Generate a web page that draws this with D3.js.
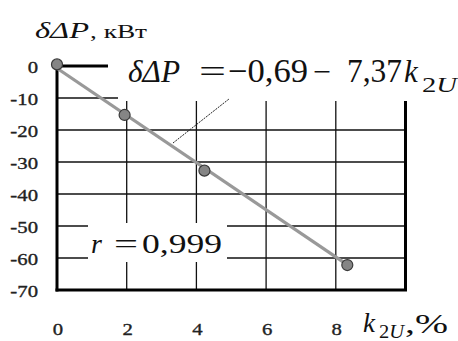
<!DOCTYPE html>
<html>
<head>
<meta charset="utf-8">
<script src="https://cdn.jsdelivr.net/npm/d3@7"></script>
<style>
  html, body { margin: 0; padding: 0; background: #fff; }
  svg { display: block; }
  .tick-y, .tick-x { font-family: "Liberation Serif", "Times New Roman", serif; font-size: 17px; fill: #222; stroke: #222; stroke-width: 0.35px; }
  .math { font-family: "Liberation Serif", "Times New Roman", serif; fill: #111; }
</style>
</head>
<body>
<svg id="chart" width="458" height="341"></svg>
<script>
// Measured points: k2U (%) vs δΔP (kW)
const kValues = [0, 1.94, 4.23, 8.33];
const dPValues = [0.5, -15.3, -32.7, -62.2];
// Linear fit coefficients
const fitIntercept = -0.69;
const fitSlope = -7.37;
const xTicks = [0, 2, 4, 6, 8];
const yTicks = [0, -10, -20, -30, -40, -50, -60, -70];

const svg = d3.select("#chart");
const x = d3.scaleLinear().domain([0, 10]).range([57, 405.5]);
const y = d3.scaleLinear().domain([0, -70]).range([66, 290]);

// grid
const grid = svg.append("g").attr("stroke", "#111").attr("stroke-width", 1.3);
grid.selectAll("line.h").data(yTicks.filter(v => v < 0 && v > -70)).join("line")
  .attr("x1", x(0)).attr("x2", x(10)).attr("y1", d => y(d)).attr("y2", d => y(d));
grid.selectAll("line.v").data(xTicks.filter(v => v > 0)).join("line")
  .attr("x1", d => x(d)).attr("x2", d => x(d)).attr("y1", y(0)).attr("y2", y(-70));

// frame
const frame = svg.append("g").attr("stroke", "#000").attr("stroke-width", 3).attr("fill", "none");
frame.append("line").attr("x1", x(0)).attr("x2", x(0)).attr("y1", y(0)).attr("y2", y(-70) + 1.5);
frame.append("line").attr("x1", x(0) - 1.5).attr("x2", x(10) + 1.5).attr("y1", y(-70)).attr("y2", y(-70));
frame.append("line").attr("x1", x(10)).attr("x2", x(10)).attr("y1", y(0)).attr("y2", y(-70));
frame.append("line").attr("x1", x(0)).attr("x2", x(10)).attr("y1", y(0)).attr("y2", y(0));

// text boxes (white fill) laid over the grid
svg.append("rect").attr("x", 108).attr("y", 40).attr("width", 350).attr("height", 44).attr("fill", "#fff");
svg.append("rect").attr("x", 118).attr("y", 84).attr("width", 340).attr("height", 17).attr("fill", "#fff");
svg.append("rect").attr("x", 88).attr("y", 223).attr("width", 139).attr("height", 39).attr("fill", "#fff");

// leader line from equation to trend line
svg.append("line").attr("x1", 173).attr("y1", 143).attr("x2", 229).attr("y2", 99)
  .attr("stroke", "#222").attr("stroke-width", 1).attr("stroke-dasharray", "2,1");

// trend line
const kLast = kValues[kValues.length - 1];
svg.append("line")
  .attr("x1", x(0)).attr("y1", y(fitIntercept))
  .attr("x2", x(kLast - 0.1)).attr("y2", y(fitIntercept + fitSlope * (kLast - 0.1)))
  .attr("stroke", "#999").attr("stroke-width", 3.2);

// points
svg.selectAll("circle.pt").data(kValues.map((k, i) => [k, dPValues[i]])).join("circle")
  .attr("cx", d => x(d[0])).attr("cy", d => y(d[1])).attr("r", 5.5)
  .attr("fill", "#858585").attr("stroke", "#3a3a3a").attr("stroke-width", 1.2);

// y tick labels (slightly widened glyphs)
svg.selectAll("text.tick-y").data(yTicks).join("text").attr("class", "tick-y")
  .attr("transform", d => `translate(38,${y(d) + 7}) scale(1.22,1)`)
  .attr("text-anchor", "end")
  .text(d => d);

// x tick labels
svg.selectAll("text.tick-x").data(xTicks).join("text").attr("class", "tick-x")
  .attr("transform", d => `translate(${x(d) + 1},335) scale(1.22,1)`)
  .attr("text-anchor", "middle")
  .text(d => d);

// title: δΔP, кВт
const titleG = svg.append("g").attr("class", "math");
titleG.append("text").attr("x", 35).attr("y", 38).attr("font-style", "italic").attr("font-size", 23)
  .attr("textLength", 54).attr("lengthAdjust", "spacingAndGlyphs").text("δΔP");
titleG.append("text").attr("x", 90).attr("y", 38).attr("font-size", 19)
  .attr("textLength", 57).attr("lengthAdjust", "spacingAndGlyphs").text(", кВт");

// equation
const eq = svg.append("g").attr("class", "math");
eq.append("text").attr("x", 128).attr("y", 82).attr("font-size", 31).attr("font-style", "italic")
  .attr("textLength", 52).attr("lengthAdjust", "spacingAndGlyphs").text("δΔP");
eq.append("text").attr("x", 199).attr("y", 82).attr("font-size", 31)
  .attr("textLength", 27).attr("lengthAdjust", "spacingAndGlyphs").text("=");
eq.append("text").attr("x", 228).attr("y", 82).attr("font-size", 33)
  .attr("textLength", 80).attr("lengthAdjust", "spacingAndGlyphs").text("−0,69");
eq.append("text").attr("x", 313).attr("y", 82).attr("font-size", 31)
  .attr("textLength", 18).attr("lengthAdjust", "spacingAndGlyphs").text("−");
eq.append("text").attr("x", 347).attr("y", 82).attr("font-size", 33)
  .attr("textLength", 55).attr("lengthAdjust", "spacingAndGlyphs").text("7,37");
eq.append("text").attr("x", 404).attr("y", 82).attr("font-size", 31).attr("font-style", "italic").text("k");
const sub1 = eq.append("text").attr("x", 422).attr("y", 92).attr("font-size", 22)
  .attr("textLength", 35).attr("lengthAdjust", "spacingAndGlyphs");
sub1.append("tspan").text("2");
sub1.append("tspan").attr("font-style", "italic").text("U");

// correlation coefficient
const rt = svg.append("g").attr("class", "math");
rt.append("text").attr("x", 91).attr("y", 253).attr("font-size", 28).attr("font-style", "italic").text("r");
rt.append("text").attr("x", 114).attr("y", 253).attr("font-size", 28)
  .attr("textLength", 24).attr("lengthAdjust", "spacingAndGlyphs").text("=");
rt.append("text").attr("x", 142).attr("y", 253).attr("font-size", 28)
  .attr("textLength", 80).attr("lengthAdjust", "spacingAndGlyphs").text("0,999");

// x axis label: k2U,%
const xl = svg.append("g").attr("class", "math");
xl.append("text").attr("x", 363).attr("y", 332).attr("font-size", 27).attr("font-style", "italic").text("k");
const sub2 = xl.append("text").attr("x", 379).attr("y", 338).attr("font-size", 18)
  .attr("textLength", 25).attr("lengthAdjust", "spacingAndGlyphs");
sub2.append("tspan").text("2");
sub2.append("tspan").attr("font-style", "italic").text("U");
xl.append("text").attr("x", 405).attr("y", 333).attr("font-size", 27)
  .attr("textLength", 43).attr("lengthAdjust", "spacingAndGlyphs").text(",%");
</script>
</body>
</html>
